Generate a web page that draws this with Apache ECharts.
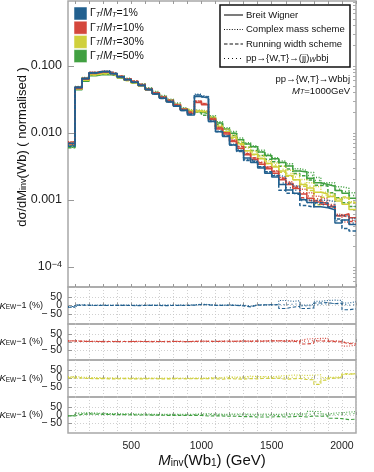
<!DOCTYPE html>
<html>
<head>
<meta charset="utf-8">
<script src="https://cdn.jsdelivr.net/npm/echarts@6/dist/echarts.min.js"></script>
<style>
html,body{margin:0;padding:0;background:#fff}
#chart{width:374px;height:472px}
</style>
</head>
<body>
<div id="chart"></div>
<script>
// bin edges of M_inv(Wb1) in GeV (50 GeV bins)
const massEdges = [50,100,150,200,250,300,350,400,450,500,550,600,650,700,750,800,850,900,950,1000,
  1050,1100,1150,1200,1250,1300,1350,1400,1450,1500,1550,1600,1650,1700,1750,1800,1850,1900,1950,2000,2050,2100]

// Breit Wigner, normalised dsigma/dM per bin
const bw1 = [0.0070,0.047,0.064,0.078,0.082,0.082,0.076,0.068,0.062,0.057,
  0.051,0.044,0.038,0.033,0.029,0.025,0.0215,0.0185,0.0348,0.0330,
  0.0148,0.0104,0.0088,0.0066,0.0054,0.0042,0.0036,0.0030,0.0025,0.0022,
  0.0017,0.0014,0.00126,0.0010,0.00091,0.00079,0.00076,0.00071,0.00045,0.00050,
  0.00043]
const bw10 = [0.0068,0.046,0.063,0.077,0.080,0.080,0.075,0.068,0.062,0.057,
  0.051,0.044,0.0385,0.0335,0.0295,0.0255,0.022,0.0197,0.0283,0.0262,
  0.0158,0.0114,0.0096,0.0074,0.0059,0.0047,0.0040,0.0034,0.0029,0.0025,
  0.0020,0.0017,0.00148,0.00122,0.00106,0.00093,0.00086,0.00079,0.00058,0.00062,
  0.00054]
const bw30 = [0.0066,0.045,0.061,0.074,0.077,0.077,0.073,0.067,0.061,0.056,
  0.051,0.044,0.039,0.034,0.030,0.026,0.0225,0.0209,0.0212,0.0204,
  0.0165,0.0124,0.0104,0.0086,0.0069,0.0054,0.0048,0.0041,0.0035,0.0031,
  0.0027,0.0023,0.0020,0.0017,0.0015,0.0013,0.00122,0.00112,0.00096,0.00086,
  0.00072]
const bw50 = [0.0064,0.044,0.059,0.071,0.074,0.074,0.071,0.066,0.061,0.056,
  0.051,0.045,0.0395,0.0345,0.0305,0.0265,0.0228,0.021,0.0205,0.0195,
  0.017,0.014,0.0114,0.0099,0.0079,0.0068,0.0062,0.0052,0.0046,0.0041,
  0.0036,0.0032,0.0027,0.0026,0.0021,0.0018,0.0017,0.0016,0.00138,0.00126,
  0.00106]

// K_EW - 1 (%) : complex mass / running width / pp->(jj)W bbj vs Breit Wigner
const cms1 = [-8,4,3,2,2,3,2,2,3,2, 2,3,2,2,3,2,3,4,8,6, 3,2,4,2,3,-4,5,3,4,6, 30,25,28,2,6,25,30,32,30,15, 22]
const rw1  = [-10,2,1,0,1,0,0,1,0,-1, 0,1,0,-1,0,1,0,2,6,4, 0,1,2,0,-2,-8,2,4,5,4, -18,-10,-5,-18,-15,15,18,10,15,-25, -20]
const pp1  = [-6,3,2,1,2,1,2,1,2,1, 1,2,1,2,1,2,1,3,5,5, 2,1,3,1,0,-6,3,4,5,5, 5,8,10,-2,0,8,10,12,8,2, 5]
const cms10 = [8,6,5,4,4,3,4,3,4,4, 3,4,3,4,5,4,3,4,6,5, 4,6,5,5,7,6,6,7,8,9, 8,10,8,18,20,22,22,8,5,-25, -20]
const rw10  = [6,4,3,3,2,3,2,3,2,3, 3,2,3,2,3,3,2,3,5,4, 3,4,5,4,5,4,5,5,6,6, 5,4,3,-12,-8,6,5,2,0,-10, -12]
const pp10  = [7,5,4,4,3,4,3,4,3,4, 4,3,4,3,4,4,3,4,5,5, 4,5,5,5,6,5,6,6,7,7, 6,7,6,5,8,12,10,5,3,-5, -8]
const cms30 = [12,8,6,5,4,4,3,3,3,3, 2,3,2,2,2,3,2,3,2,4, 6,6,10,8,8,14,12,12,10,14, 18,20,20,18,20,22,6,8,10,24, 30]
const rw30  = [4,2,0,-1,-1,-2,-2,-1,-2,-2, -2,-1,-2,-2,-2,-1,-2,-1,-2,-1, -2,-4,0,-3,-4,0,-2,2,0,2, -4,-2,0,-6,-8,-35,-10,2,6,28, 26]
const pp30  = [8,5,3,2,2,1,1,1,1,1, 0,1,0,0,1,0,0,1,0,2, 3,2,6,4,4,10,8,8,6,8, 6,8,10,4,6,-20,-4,4,8,26, 28]
const cms50 = [-4,12,14,12,10,9,8,8,7,6, 6,5,5,5,4,5,4,5,6,8, 6,5,5,6,6,5,4,6,4,4, 6,8,8,6,22,20,6,12,14,18, 20]
const rw50  = [-6,4,6,5,4,3,2,2,1,0, 0,-1,-1,-2,-2,-2,-3,-2,-3,-6, -5,-6,-8,-8,-10,-10,-12,-12,-12,-10, -12,-10,-8,-12,-6,-8,-5,-20,-22,-28, -25]
const pp50  = [-5,8,10,8,7,6,5,5,4,3, 3,2,2,2,1,2,1,2,3,4, 2,1,0,2,1,0,-2,0,-2,-2, 0,2,2,0,10,8,0,2,4,6, 10]

const widthLabels = ['1%','10%','30%','50%']
const schemeLabels = ['Breit Wigner','Complex mass scheme','Running width scheme','pp→{W,T}→(jj)','bbj']
const xTicks = [100,200,300,400,500,600,700,800,900,1000,1100,1200,1300,1400,1500,1600,1700,1800,1900,2000,2100]
const xLabelVals = [500,1000,1500,2000]
const yLabelVals = [0.0001,0.001,0.01,0.1]
const ratioTicks = [-50,0,50]

const FONT = '"Liberation Sans", Arial, sans-serif'
const colors = ['#22608f','#d4473c','#d0d03c','#41a041']
const dashes = ['solid',[1,1.6],[3.5,2],[1,3]]

const widths = [
  {bw:bw1, k:[cms1,rw1,pp1]},
  {bw:bw10, k:[cms10,rw10,pp10]},
  {bw:bw30, k:[cms30,rw30,pp30]},
  {bw:bw50, k:[cms50,rw50,pp50]}
]

function stepData(vals){
  return massEdges.map((e,i)=>[e, vals[Math.min(i, vals.length-1)]])
}

// log-axis minor ticks 2..9 x 10^k
let minorVals = []
for (let p=-5;p<=0;p++){ for (let m=2;m<=9;m++){ minorVals.push(m*Math.pow(10,p)) } }

let chart = echarts.init(document.getElementById('chart'), null, {renderer:'canvas'})

let grids = [
  {top:1, height:286},
  {top:287, height:37},
  {top:324, height:36},
  {top:360, height:37},
  {top:397, height:36}
].map(g=>Object.assign({left:68, right:18, show:true, borderColor:'#a8a8a8', borderWidth:1.5}, g))

let xAxes = grids.map((g,gi)=>({
  type:'value', gridIndex:gi, min:50, max:2100,
  axisLine:{show:false},
  axisTick:{inside:true, length:3, customValues:xTicks, lineStyle:{color:'#999'}},
  axisLabel:{show:gi===4, customValues:xLabelVals, fontSize:10.5, color:'#222', fontFamily:FONT, margin:8,
    formatter:v=>String(v)},
  splitLine:{show:gi>0, lineStyle:{color:'#c4c4c4', type:[1,2], width:0.8}},
  name: gi===4 ? '{i|M}{s|inv}(Wb{s|1}) (GeV)' : '',
  nameLocation:'middle', nameGap:20, nameMoveOverlap:false,
  nameTextStyle:{fontSize:15, color:'#111', fontFamily:FONT,
    rich:{i:{fontStyle:'italic', fontSize:15}, s:{fontSize:10, verticalAlign:'bottom'}}}
}))
// ticks along the top of the main panel
xAxes.push({type:'value', gridIndex:0, position:'top', min:50, max:2100,
  axisLine:{show:false}, axisLabel:{show:false}, splitLine:{show:false},
  axisTick:{inside:true, length:3, customValues:xTicks, lineStyle:{color:'#999'}}})

let yAxes = [
  {type:'log', gridIndex:0, min:5e-5, max:0.93, logBase:10,
   axisLine:{show:false},
   axisTick:{inside:true, length:6, customValues:yLabelVals, lineStyle:{color:'#999'}},
   axisLabel:{customValues:yLabelVals, fontSize:12.5, color:'#222', fontFamily:FONT, margin:6,
     formatter:v=> v>5e-4 ? v.toFixed(3) : '{n|10}{e|−4}',
     rich:{n:{fontSize:12.5}, e:{fontSize:9, verticalAlign:'top'}}},
   splitLine:{show:false}},
  {type:'log', gridIndex:0, min:5e-5, max:0.93, logBase:10,
   axisLine:{show:false}, axisLabel:{show:false}, splitLine:{show:false},
   axisTick:{inside:true, length:3, customValues:minorVals, lineStyle:{color:'#aaa'}}},
  {type:'log', gridIndex:0, min:5e-5, max:0.93, logBase:10, position:'right',
   axisLine:{show:false}, axisLabel:{show:false}, splitLine:{show:false},
   axisTick:{inside:true, length:3, customValues:minorVals.concat(yLabelVals), lineStyle:{color:'#aaa'}}}
]
// ratio panels: one axis per tick label so the close labels are all kept
let ratioAxisIndex = []
for (let gi=1; gi<=4; gi++){
  ratioAxisIndex.push(yAxes.length)
  ratioTicks.forEach((t,ti)=>{
    yAxes.push({type:'value', gridIndex:gi, min:-110, max:110, position:'left',
      axisLine:{show:false},
      axisTick:{show:ti===0, inside:true, length:4, customValues:ratioTicks, lineStyle:{color:'#999'}},
      axisLabel:{customValues:[t], fontSize:10.5, color:'#222', fontFamily:FONT, margin:6,
        formatter:v=> v<0 ? '− '+(-v) : String(v)},
      splitLine:{show:ti===0, lineStyle:{color:'#c4c4c4', type:[1,2], width:0.8}}})
  })
}

let series = []
// main panel: widest first so narrow width sits on top
for (let w=3; w>=0; w--){
  let W = widths[w]
  for (let s=0; s<4; s++){
    let vals = s===0 ? W.bw : W.bw.map((v,i)=>v*(1+W.k[s-1][i]/100))
    series.push({type:'line', xAxisIndex:0, yAxisIndex:0, step:'end', symbol:'none',
      data:stepData(vals), lineStyle:{color:colors[w], width:1.5, type:dashes[s]}, z:3})
  }
}
// ratio panels
for (let w=0; w<4; w++){
  for (let s=0; s<3; s++){
    series.push({type:'line', xAxisIndex:w+1, yAxisIndex:ratioAxisIndex[w], step:'end', symbol:'none',
      data:stepData(widths[w].k[s]), lineStyle:{color:colors[w], width:1.1, type:dashes[s+1]}, z:3})
  }
}

let graphic = []
// y title of the main panel
graphic.push({type:'text', z:100, x:22, y:147, rotation:Math.PI/2,
  style:{text:'dσ/dM{s|inv}(Wb) ( normalised )', fill:'#111', fontSize:13, fontFamily:FONT,
    align:'center', verticalAlign:'middle', rich:{s:{fontSize:9, verticalAlign:'bottom'}}}})
// width legend
widthLabels.forEach((lab,i)=>{
  graphic.push({type:'rect', z:100, shape:{x:74, y:7+14.2*i, width:13, height:13},
    style:{fill:colors[i], stroke:'rgba(255,255,255,0.5)', lineWidth:1}})
  graphic.push({type:'text', z:100, x:90, y:13.5+14.2*i,
    style:{text:'Γ{si|T}/{i|M}{si|T}='+lab, fill:'#111', fontSize:10.5, fontFamily:FONT, verticalAlign:'middle',
      rich:{i:{fontStyle:'italic', fontSize:10.5}, si:{fontStyle:'italic', fontSize:7.5, verticalAlign:'bottom'}}}})
})
// scheme legend
graphic.push({type:'rect', z:100, shape:{x:220, y:5, width:130, height:62},
  style:{fill:'#fff', stroke:'#111', lineWidth:1.5}})
const legY = [15,29.5,44,58.5]
for (let s=0; s<4; s++){
  graphic.push({type:'line', z:101, shape:{x1:224, y1:legY[s], x2:243, y2:legY[s]},
    style:{stroke:'#111', lineWidth:1.1, lineDash: s===0 ? null : dashes[s]}})
  let txt = s<3 ? schemeLabels[s] : schemeLabels[3]+'{si|W}'+schemeLabels[4]
  graphic.push({type:'text', z:101, x:246, y:legY[s],
    style:{text:txt, fill:'#111', fontSize:9.5, fontFamily:FONT, verticalAlign:'middle',
      rich:{si:{fontStyle:'italic', fontSize:7, verticalAlign:'bottom'}}}})
}
graphic.push({type:'text', z:100, x:350, y:79,
  style:{text:'pp→{W,T}→Wbbj', fill:'#111', fontSize:9.5, fontFamily:FONT, align:'right', verticalAlign:'middle'}})
graphic.push({type:'text', z:100, x:350, y:91,
  style:{text:'{i|M}{si|T}=1000GeV', fill:'#111', fontSize:9.5, fontFamily:FONT, align:'right', verticalAlign:'middle',
    rich:{i:{fontStyle:'italic', fontSize:9.5}, si:{fontStyle:'italic', fontSize:7, verticalAlign:'bottom'}}}})
// ratio panel labels
const ratioMid = [306, 342, 378.5, 415]
ratioMid.forEach(y=>{
  graphic.push({type:'text', z:100, x:43, y:y,
    style:{text:'{i|K}{s|EW}−1 (%)', fill:'#111', fontSize:9, fontFamily:FONT, align:'right', verticalAlign:'middle',
      rich:{i:{fontStyle:'italic', fontSize:9.5}, s:{fontSize:6.5, verticalAlign:'bottom'}}}})
})

chart.setOption({
  animation:false,
  backgroundColor:'#fff',
  grid:grids,
  xAxis:xAxes,
  yAxis:yAxes,
  series:series,
  graphic:graphic
})
</script>
</body>
</html>
